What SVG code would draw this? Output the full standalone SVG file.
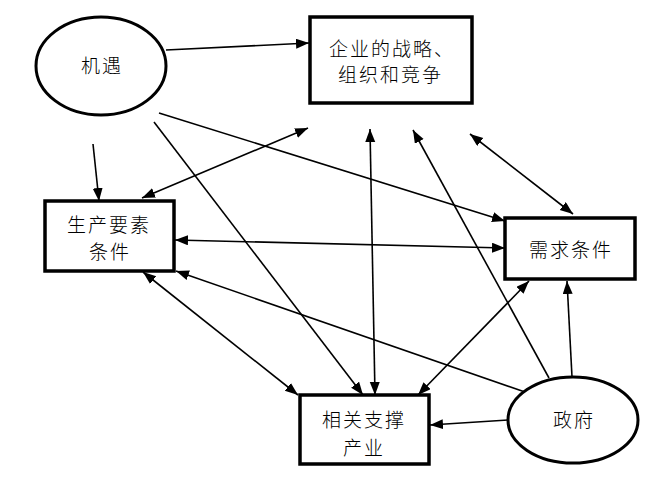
<svg xmlns="http://www.w3.org/2000/svg" width="658" height="478" viewBox="0 0 658 478">
<defs>
<style>
.box{fill:#fff;stroke:#000;stroke-width:3.5}
.ell{fill:#fff;stroke:#000;stroke-width:3}
.t{font-family:"Noto Sans CJK SC","Noto Sans",sans-serif;font-size:19px;font-weight:300;fill:#000;letter-spacing:2px}
.c line{stroke:#000;stroke-width:1.6;fill:none}
</style>
<marker id="ah" markerUnits="userSpaceOnUse" markerWidth="14" markerHeight="12" viewBox="0 0 14 12" refX="13" refY="5" orient="auto-start-reverse">
<path d="M0,0 L13,5 L0,10 z" fill="#000"/>
</marker>
</defs>
<rect width="658" height="478" fill="#fff"/>
<g class="c">
<line x1="166" y1="50" x2="309" y2="43" marker-end="url(#ah)"/>
<line x1="93" y1="144" x2="99" y2="201" marker-end="url(#ah)"/>
<line x1="142" y1="198" x2="308" y2="128" marker-start="url(#ah)" marker-end="url(#ah)"/>
<line x1="159" y1="113" x2="505" y2="221" marker-end="url(#ah)"/>
<line x1="154" y1="122" x2="363" y2="395" marker-end="url(#ah)"/>
<line x1="175" y1="240" x2="505" y2="248" marker-start="url(#ah)" marker-end="url(#ah)"/>
<line x1="370" y1="129" x2="375" y2="395" marker-start="url(#ah)" marker-end="url(#ah)"/>
<line x1="549" y1="378" x2="413" y2="130" marker-end="url(#ah)"/>
<line x1="470" y1="134" x2="573" y2="214" marker-start="url(#ah)" marker-end="url(#ah)"/>
<line x1="529" y1="281" x2="418" y2="395" marker-start="url(#ah)" marker-end="url(#ah)"/>
<line x1="572" y1="377" x2="567" y2="281" marker-end="url(#ah)"/>
<line x1="508" y1="420" x2="430" y2="425" marker-end="url(#ah)"/>
<line x1="525" y1="392" x2="176" y2="271" marker-end="url(#ah)"/>
<line x1="143" y1="272" x2="298" y2="395" marker-start="url(#ah)" marker-end="url(#ah)"/>
</g>
<g id="jiyu">
<ellipse class="ell" cx="101" cy="66" rx="65" ry="49"/>
<text class="t" x="102" y="73" text-anchor="middle">机遇</text>
</g>
<g id="qiye">
<rect class="box" x="310" y="17" width="162" height="86"/>
<text class="t" x="329" y="56">企业的战略、</text>
<text class="t" x="338" y="82">组织和竞争</text>
</g>
<g id="shengchan">
<rect class="box" x="45" y="201" width="129" height="70"/>
<text class="t" x="67" y="232">生产要素</text>
<text class="t" x="89" y="259">条件</text>
</g>
<g id="xuqiu">
<rect class="box" x="505" y="218" width="130" height="61"/>
<text class="t" x="529" y="257">需求条件</text>
</g>
<g id="xiangguan">
<rect class="box" x="300" y="395" width="129" height="69"/>
<text class="t" x="322" y="427">相关支撑</text>
<text class="t" x="343" y="455">产业</text>
</g>
<g id="zhengfu">
<ellipse class="ell" cx="573" cy="420" rx="65" ry="43"/>
<text class="t" x="574" y="427" text-anchor="middle">政府</text>
</g>
</svg>
